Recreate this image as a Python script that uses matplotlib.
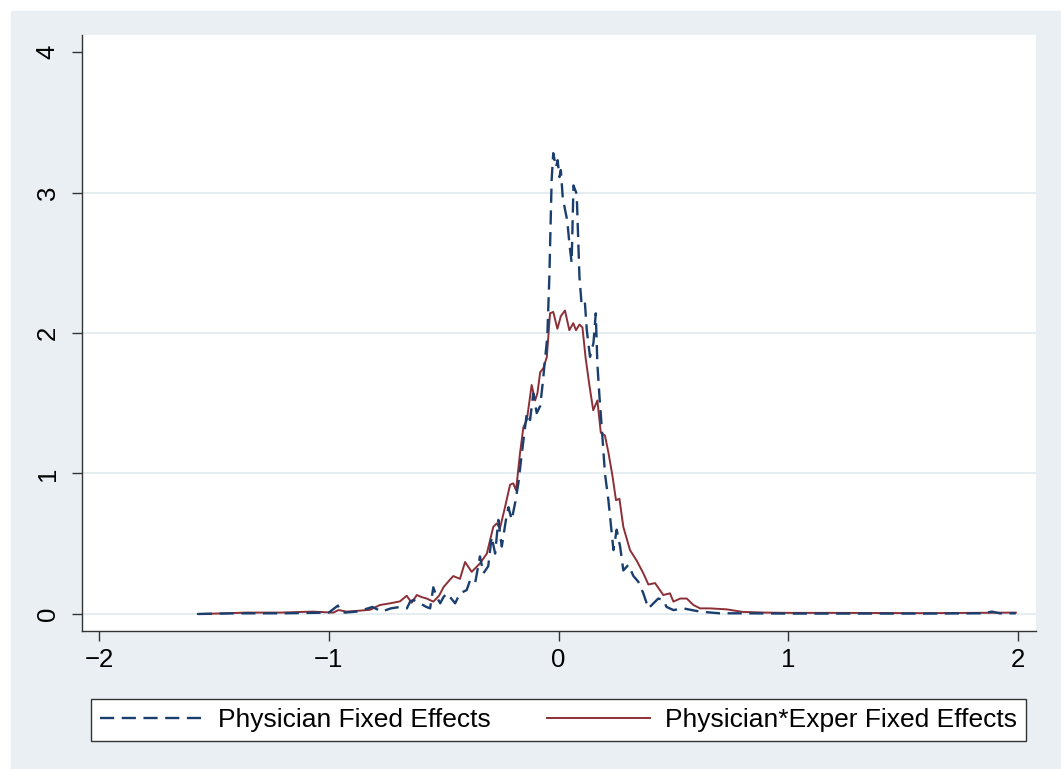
import matplotlib
matplotlib.use("Agg")
import matplotlib.pyplot as plt
from matplotlib.patches import Rectangle
from matplotlib.lines import Line2D

plt.rcParams['font.family'] = ['Liberation Sans', 'DejaVu Sans']

# density estimates
fe_x = [-1.57, -1.40, -1.20, -1.00, -0.96, -0.95, -0.93, -0.88, -0.85, -0.81,
        -0.77, -0.73, -0.69, -0.66, -0.646, -0.632, -0.603, -0.575, -0.559, -0.545,
        -0.530, -0.515, -0.501, -0.486, -0.472, -0.450, -0.429, -0.400, -0.385, -0.363,
        -0.342, -0.327, -0.306, -0.291, -0.276, -0.262, -0.247, -0.229, -0.218, -0.204,
        -0.189, -0.175, -0.160, -0.138, -0.124, -0.110, -0.095, -0.080, -0.069, -0.059,
        -0.049, -0.040, -0.030, -0.023, -0.011, -0.004, 0.004, 0.010, 0.018, 0.028,
        0.038, 0.047, 0.057, 0.065, 0.079, 0.091, 0.101, 0.115, 0.123, 0.137,
        0.152, 0.162, 0.169, 0.178, 0.188, 0.202, 0.217, 0.239, 0.253, 0.268,
        0.282, 0.304, 0.326, 0.347, 0.369, 0.391, 0.413, 0.434, 0.456, 0.470,
        0.500, 0.543, 0.580, 0.616, 0.70, 0.80, 1.00, 1.30, 1.60, 1.85,
        1.886, 1.92, 1.99]
fe_y = [0.0, 0.005, 0.005, 0.01, 0.06, 0.02, 0.01, 0.017, 0.03, 0.05,
        0.017, 0.04, 0.05, 0.04, 0.088, 0.10, 0.076, 0.05, 0.04, 0.19,
        0.12, 0.076, 0.12, 0.147, 0.12, 0.076, 0.147, 0.17, 0.24, 0.22,
        0.41, 0.29, 0.34, 0.55, 0.43, 0.67, 0.48, 0.67, 0.76, 0.67,
        0.79, 0.93, 1.14, 1.43, 1.38, 1.57, 1.43, 1.48, 1.64, 1.81,
        1.97, 2.40, 3.09, 3.28, 3.18, 3.23, 3.11, 3.16, 2.97, 2.88,
        2.80, 2.64, 2.50, 3.05, 2.99, 2.40, 2.19, 2.21, 2.02, 1.83,
        1.93, 2.14, 1.78, 1.55, 1.33, 1.00, 0.81, 0.455, 0.60, 0.48,
        0.31, 0.35, 0.27, 0.23, 0.147, 0.04, 0.076, 0.11, 0.10, 0.05,
        0.028, 0.04, 0.028, 0.017, 0.005, 0.005, 0.003, 0.003, 0.003, 0.005,
        0.017, 0.005, 0.005]

fex_x = [-1.57, -1.45, -1.36, -1.21, -1.07, -0.98, -0.958, -0.922, -0.864, -0.82,
         -0.777, -0.733, -0.69, -0.661, -0.639, -0.617, -0.595, -0.574, -0.545, -0.52,
         -0.501, -0.475, -0.458, -0.429, -0.407, -0.378, -0.342, -0.312, -0.284, -0.269,
         -0.255, -0.233, -0.211, -0.197, -0.185, -0.168, -0.153, -0.138, -0.117, -0.102,
         -0.092, -0.080, -0.066, -0.051, -0.037, -0.023, -0.005, 0.010, 0.028, 0.047,
         0.064, 0.076, 0.091, 0.104, 0.118, 0.135, 0.151, 0.169, 0.184, 0.202,
         0.217, 0.235, 0.250, 0.265, 0.282, 0.311, 0.340, 0.369, 0.391, 0.420,
         0.456, 0.485, 0.500, 0.529, 0.558, 0.587, 0.616, 0.659, 0.732, 0.80,
         0.9, 1.0, 1.2, 1.4, 1.6, 1.8, 1.99]
fex_y = [0.0, 0.005, 0.01, 0.01, 0.017, 0.01, 0.028, 0.017, 0.024, 0.03,
         0.064, 0.076, 0.09, 0.13, 0.08, 0.135, 0.12, 0.11, 0.088, 0.13,
         0.19, 0.24, 0.27, 0.25, 0.37, 0.30, 0.36, 0.43, 0.62, 0.645,
         0.61, 0.76, 0.92, 0.93, 0.88, 1.14, 1.33, 1.38, 1.63, 1.52,
         1.57, 1.72, 1.75, 1.83, 2.14, 2.15, 2.03, 2.12, 2.16, 2.02,
         2.07, 2.02, 2.06, 2.04, 1.82, 1.62, 1.45, 1.52, 1.29, 1.27,
         1.15, 0.98, 0.81, 0.82, 0.62, 0.455, 0.38, 0.29, 0.21, 0.22,
         0.135, 0.147, 0.088, 0.11, 0.11, 0.064, 0.04, 0.04, 0.033, 0.015,
         0.01, 0.008, 0.008, 0.007, 0.006, 0.008, 0.01]

labels = ["Physician Fixed Effects", "Physician*Exper Fixed Effects"]
xticks = [-2, -1, 0, 1, 2]
yticks = [0, 1, 2, 3, 4]

navy = "#1a3f6e"
maroon = "#8c2f36"
bg = "#e9eff2"

fig = plt.figure(figsize=(10.61, 7.69), dpi=100, facecolor="white")
# stata style graph region, white strip top/left
fig.patches.append(Rectangle((11 / 1061, 0), 1 - 11 / 1061, 1 - 11 / 769,
                             transform=fig.transFigure, color=bg, zorder=-5))

ax = fig.add_axes([82 / 1061, 1 - 631 / 769, (1036 - 82) / 1061, (631 - 35) / 769])
ax.set_zorder(2)
ax.set_facecolor("white")

for v in [0, 1, 2, 3]:
    ax.axhline(v, color="#e4ecef", lw=1.3, zorder=1)

ax.plot(fe_x, fe_y, color=navy, lw=1.7, dashes=(6, 3.2), zorder=3)
ax.plot(fex_x, fex_y, color=maroon, lw=1.4, zorder=2)

ax.set_xlim(-2.074, 2.078)
ax.set_ylim(-0.121, 4.121)
ax.set_xticks(xticks)
ax.set_xticklabels([str(t).replace("-", "\u2212") for t in xticks])
ax.set_yticks(yticks)
ax.set_yticklabels([str(t) for t in yticks], rotation=90, va="center")
ax.tick_params(axis="both", direction="out", length=7, width=1, color="#333333",
               labelsize=18.5)
ax.tick_params(axis="x", pad=5)
ax.tick_params(axis="y", pad=9)

for s in ["top", "right"]:
    ax.spines[s].set_visible(False)
for s in ["left", "bottom"]:
    ax.spines[s].set_color("#333333")
    ax.spines[s].set_linewidth(1)

handles = [Line2D([], [], color=navy, lw=1.7, dashes=(6, 3.2)),
           Line2D([], [], color=maroon, lw=1.4)]
leg = fig.legend(handles, labels, loc="lower left",
                 bbox_to_anchor=(91 / 1061, 1 - 741 / 769, (1026 - 91) / 1061, 50 / 769),
                 mode="expand", ncol=2, fontsize=19, handlelength=3.9,
                 handletextpad=0.57, borderpad=0.35, borderaxespad=0,
                 fancybox=False, frameon=True, framealpha=1)
leg.get_frame().set_edgecolor("#333333")
leg.get_frame().set_linewidth(1)
leg.get_frame().set_facecolor("white")

fig.savefig("out.png", dpi=100, facecolor=fig.get_facecolor())
